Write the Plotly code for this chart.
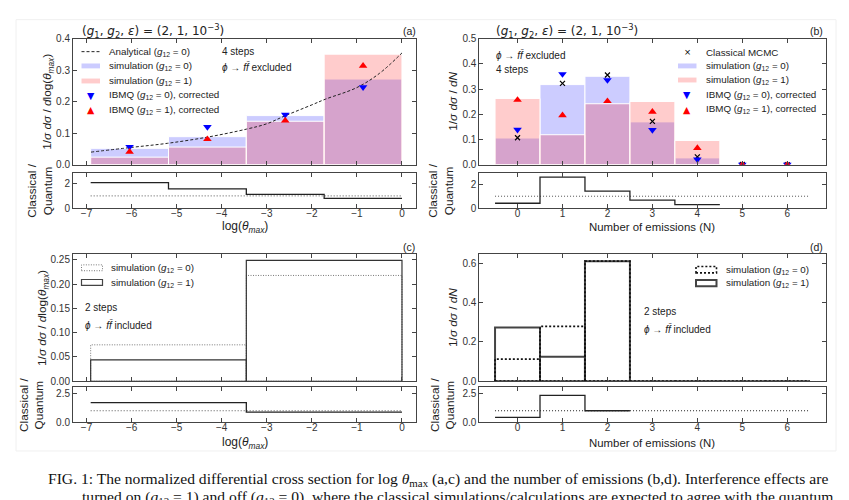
import plotly.graph_objects as go

W, H = 849, 500


def fx(p):
    return p / W


def fy(p):
    return 1 - p / H


# ---------------- data ----------------
# (a) log(theta_max), 4 steps
edges_a = [-6.908, -5.181, -3.454, -1.727, 0.0]
sim0_a = [0.052, 0.089, 0.156, 0.272]
sim1_a = [0.024, 0.056, 0.138, 0.351]
ibmq0_a = [0.057, 0.120, 0.159, 0.246]
ibmq1_a = [0.041, 0.081, 0.140, 0.314]
ratio_a = [2.08, 1.57, 1.12, 0.80]
analytic_x = [-6.9, -6.0, -5.2, -4.3, -3.45, -3.0, -2.6, -2.0, -1.7, -1.0, -0.5, 0.0]
analytic_y = [0.040, 0.055, 0.068, 0.088, 0.113, 0.130, 0.155, 0.190, 0.208, 0.245, 0.290, 0.355]

# (b) number of emissions, 4 steps
n_b = [0, 1, 2, 3, 4, 5, 6]
sim0_b = [0.106, 0.318, 0.351, 0.170, 0.027, 0.0, 0.0]
sim1_b = [0.263, 0.119, 0.242, 0.251, 0.096, 0.0, 0.0]
mcmc_b = [0.107, 0.323, 0.356, 0.172, 0.031, 0.001, 0.0]
ibmq0_b = [0.139, 0.360, 0.336, 0.138, 0.021, 0.0, 0.0]
ibmq1_b = [0.257, 0.196, 0.252, 0.210, 0.066, 0.0, 0.0]
ratio_b = [0.41, 2.60, 1.43, 0.67, 0.30]

# (c) log(theta_max), 2 steps
edges_c = [-6.908, -3.454, 0.0]
sim0_c = [0.075, 0.218]
sim1_c = [0.044, 0.249]
ratio_c = [1.72, 0.87]

# (d) number of emissions, 2 steps
n_d = [0, 1, 2, 3, 4, 5, 6]
sim0_d = [0.113, 0.279, 0.611, 0.0, 0.0, 0.0, 0.0]
sim1_d = [0.274, 0.125, 0.611, 0.0, 0.0, 0.0, 0.0]
ratio_d = [0.42, 2.35, 1.0]

# ---------------- helpers ----------------
BLUE_FILL = "rgba(0,0,255,0.2)"
RED_FILL = "rgba(255,0,0,0.2)"
FONT = "Liberation Sans"


def centers(edges):
    return [(edges[i] + edges[i + 1]) / 2 for i in range(len(edges) - 1)]


def widths(edges):
    return [edges[i + 1] - edges[i] for i in range(len(edges) - 1)]


def int_edges(ns):
    return [n - 0.5 for n in ns] + [ns[-1] + 0.5]


def outline(edges, vals):
    xs, ys = [], []
    for i, v in enumerate(vals):
        l, r = edges[i], edges[i + 1]
        xs += [l, l, r, r, l, None]
        ys += [0, v, v, 0, 0, None]
    return xs, ys


fig = go.Figure()

# ---------- (a) ----------
ca, wa = centers(edges_a), widths(edges_a)
fig.add_trace(go.Bar(x=ca, y=sim0_a, width=wa, xaxis="x", yaxis="y",
                     marker=dict(color=BLUE_FILL, line=dict(color="white", width=1))))
fig.add_trace(go.Bar(x=ca, y=sim1_a, width=wa, xaxis="x", yaxis="y",
                     marker=dict(color=RED_FILL, line=dict(color="white", width=1))))
fig.add_trace(go.Scatter(x=analytic_x, y=analytic_y, mode="lines", xaxis="x", yaxis="y",
                         line=dict(color="#222", width=1, dash="3px,2px", shape="spline")))
fig.add_trace(go.Scatter(x=ca, y=ibmq0_a, mode="markers", xaxis="x", yaxis="y",
                         marker=dict(symbol="triangle-down", color="blue", size=7.5)))
fig.add_trace(go.Scatter(x=ca, y=ibmq1_a, mode="markers", xaxis="x", yaxis="y",
                         marker=dict(symbol="triangle-up", color="red", size=7.5)))
fig.add_trace(go.Scatter(x=[edges_a[0], edges_a[-1]], y=[1, 1], mode="lines", xaxis="x2", yaxis="y2",
                         line=dict(color="#555", width=1, dash="1px,2px")))
fig.add_trace(go.Scatter(x=edges_a, y=ratio_a + [ratio_a[-1]], mode="lines", xaxis="x2", yaxis="y2",
                         line=dict(color="#222", width=1.3, shape="hv")))

# ---------- (b) ----------
eb = int_edges(n_b)
fig.add_trace(go.Bar(x=n_b, y=sim0_b, width=[1] * len(n_b), xaxis="x3", yaxis="y3",
                     marker=dict(color=BLUE_FILL, line=dict(color="white", width=1))))
fig.add_trace(go.Bar(x=n_b, y=sim1_b, width=[1] * len(n_b), xaxis="x3", yaxis="y3",
                     marker=dict(color=RED_FILL, line=dict(color="white", width=1))))
fig.add_trace(go.Scatter(x=n_b, y=mcmc_b, mode="markers", xaxis="x3", yaxis="y3",
                         marker=dict(symbol="x-thin", size=5, color="black",
                                     line=dict(color="black", width=1.2))))
fig.add_trace(go.Scatter(x=n_b, y=ibmq0_b, mode="markers", xaxis="x3", yaxis="y3",
                         marker=dict(symbol="triangle-down", color="blue", size=7.5)))
fig.add_trace(go.Scatter(x=n_b, y=ibmq1_b, mode="markers", xaxis="x3", yaxis="y3",
                         marker=dict(symbol="triangle-up", color="red", size=7.5)))
rb_edges = eb[:len(ratio_b) + 1]
fig.add_trace(go.Scatter(x=[eb[0], eb[-1]], y=[1, 1], mode="lines", xaxis="x4", yaxis="y4",
                         line=dict(color="#555", width=1, dash="1px,2px")))
fig.add_trace(go.Scatter(x=rb_edges, y=ratio_b + [ratio_b[-1]], mode="lines", xaxis="x4", yaxis="y4",
                         line=dict(color="#222", width=1.3, shape="hv")))

# ---------- (c) ----------
xs, ys = outline(edges_c, sim0_c)
fig.add_trace(go.Scatter(x=xs, y=ys, mode="lines", xaxis="x5", yaxis="y5",
                         line=dict(color="#777", width=1, dash="1px,1.5px")))
xs, ys = outline(edges_c, sim1_c)
fig.add_trace(go.Scatter(x=xs, y=ys, mode="lines", xaxis="x5", yaxis="y5",
                         line=dict(color="#333", width=1.2)))
fig.add_trace(go.Scatter(x=[edges_c[0], edges_c[-1]], y=[1, 1], mode="lines", xaxis="x6", yaxis="y6",
                         line=dict(color="#555", width=1, dash="1px,2px")))
fig.add_trace(go.Scatter(x=edges_c, y=ratio_c + [ratio_c[-1]], mode="lines", xaxis="x6", yaxis="y6",
                         line=dict(color="#222", width=1.3, shape="hv")))

# ---------- (d) ----------
ed = int_edges(n_d)
xs, ys = outline(ed, sim1_d)
fig.add_trace(go.Scatter(x=xs, y=ys, mode="lines", xaxis="x7", yaxis="y7",
                         line=dict(color="#444", width=2)))
xs, ys = outline(ed, sim0_d)
fig.add_trace(go.Scatter(x=xs, y=ys, mode="lines", xaxis="x7", yaxis="y7",
                         line=dict(color="#111", width=1.8, dash="2px,2px")))
rd_edges = ed[:len(ratio_d) + 1]
fig.add_trace(go.Scatter(x=[ed[0], ed[-1]], y=[1, 1], mode="lines", xaxis="x8", yaxis="y8",
                         line=dict(color="#222", width=1, dash="1px,2px")))
fig.add_trace(go.Scatter(x=rd_edges, y=ratio_d + [ratio_d[-1]], mode="lines", xaxis="x8", yaxis="y8",
                         line=dict(color="#222", width=1.3, shape="hv")))

# ---------------- axes ----------------
common = dict(showline=True, mirror="ticks", linecolor="#444", linewidth=1,
              ticks="inside", ticklen=4, tickwidth=1, tickcolor="#444",
              showgrid=False, zeroline=False,
              tickfont=dict(family=FONT, size=10, color="#333"))
xlab = dict(ticklabelstandoff=-4)

LX_A, RX_A = 73, 415.5
LX_B, RX_B = 479.3, 825.5
TOP_M1, BOT_M1 = 34.5, 163.3
TOP_R1, BOT_R1 = 171.7, 207.7
TOP_M2, BOT_M2 = 254.7, 384.7
TOP_R2, BOT_R2 = 391.0, 426.5

XR_A = [-7.3, 0.3]
XR_B = [-0.85, 6.85]
XT_A = list(range(-7, 1))
XT_B = list(range(0, 7))


def dx(l, r):
    return [fx(l), fx(r)]


def dy(t, b):
    return [fy(b), fy(t)]


layout_axes = dict(
    xaxis=dict(domain=dx(LX_A, RX_A), range=XR_A, anchor="y", tickvals=XT_A, showticklabels=False, **common),
    yaxis=dict(domain=dy(TOP_M1, BOT_M1), range=[0, 0.4], anchor="x", tickvals=[0, 0.1, 0.2, 0.3, 0.4],
               tickformat=".1f", **common),
    xaxis2=dict(domain=dx(LX_A, RX_A), range=XR_A, anchor="y2", tickvals=XT_A, **xlab, **common),
    yaxis2=dict(domain=dy(TOP_R1, BOT_R1), range=[0, 2.88], anchor="x2", tickvals=[0, 2], **common),
    xaxis3=dict(domain=dx(LX_B, RX_B), range=XR_B, anchor="y3", tickvals=XT_B, showticklabels=False, **common),
    yaxis3=dict(domain=dy(TOP_M1, BOT_M1), range=[0, 0.5], anchor="x3",
                tickvals=[0, 0.1, 0.2, 0.3, 0.4, 0.5], tickformat=".1f", **common),
    xaxis4=dict(domain=dx(LX_B, RX_B), range=XR_B, anchor="y4", tickvals=XT_B, **xlab, **common),
    yaxis4=dict(domain=dy(TOP_R1, BOT_R1), range=[0, 2.96], anchor="x4", tickvals=[0, 2], **common),
    xaxis5=dict(domain=dx(LX_A, RX_A), range=XR_A, anchor="y5", tickvals=XT_A, showticklabels=False, **common),
    yaxis5=dict(domain=dy(TOP_M2, BOT_M2), range=[0, 0.262], anchor="x5",
                tickvals=[0, 0.05, 0.10, 0.15, 0.20, 0.25], tickformat=".2f", **common),
    xaxis6=dict(domain=dx(LX_A, RX_A), range=XR_A, anchor="y6", tickvals=XT_A, **xlab, **common),
    yaxis6=dict(domain=dy(TOP_R2, BOT_R2), range=[0, 3.05], anchor="x6", tickvals=[0, 2.5],
                tickformat=".1f", **common),
    xaxis7=dict(domain=dx(LX_B, RX_B), range=XR_B, anchor="y7", tickvals=XT_B, showticklabels=False, **common),
    yaxis7=dict(domain=dy(TOP_M2, BOT_M2), range=[0, 0.647], anchor="x7", tickvals=[0, 0.2, 0.4, 0.6],
                tickformat=".1f", **common),
    xaxis8=dict(domain=dx(LX_B, RX_B), range=XR_B, anchor="y8", tickvals=XT_B, **xlab, **common),
    yaxis8=dict(domain=dy(TOP_R2, BOT_R2), range=[0, 3.05], anchor="x8", tickvals=[0, 2.5],
                tickformat=".1f", **common),
)

# ---------------- annotations ----------------
ann = []


def txt(x, y, s, size=11, xanchor="left", yanchor="middle", angle=0, color="#222", family=FONT):
    ann.append(dict(x=fx(x), y=fy(y), xref="paper", yref="paper", text=s, showarrow=False,
                    xanchor=xanchor, yanchor=yanchor, textangle=angle,
                    font=dict(size=size, color=color, family=family)))


G12_0 = "(<i>g</i><sub>12</sub> = 0)"
G12_1 = "(<i>g</i><sub>12</sub> = 1)"
HDR = "(<i>g</i><sub>1</sub>, <i>g</i><sub>2</sub>, <i>ε</i>) = (2, 1, 10<sup>−3</sup>)"
FF = "<i>ϕ</i> → <i>ff\u0304</i>"
YT_LOG = "1/<i>σ dσ</i> / <i>d</i>log(<i>θ<sub>max</sub></i>)"
YT_N = "1/<i>σ dσ</i> / <i>dN</i>"
XT_LOG = "log(<i>θ<sub>max</sub></i>)"
RAT = "Classical /<br>Quantum"
TS = 11.8  # axis title size
LEG = 9.8
INS = 10

# headers and panel labels
txt(80, 26.5, HDR, size=12, family="DejaVu Sans")
txt(494, 26.5, HDR, size=12, family="DejaVu Sans")
txt(409, 27, "(a)", size=10.5, xanchor="center")
txt(816, 27, "(b)", size=10.5, xanchor="center")
txt(409, 247, "(c)", size=10.5, xanchor="center")
txt(816, 247, "(d)", size=10.5, xanchor="center")

# axis titles
txt(48, 99, YT_LOG, size=TS, xanchor="center", angle=-90)
txt(40, 190, RAT, size=TS, xanchor="center", angle=-90)
txt(245, 227.5, XT_LOG, size=12, xanchor="center")
txt(453, 99, YT_N, size=TS, xanchor="center", angle=-90)
txt(441, 190, RAT, size=TS, xanchor="center", angle=-90)
txt(652, 227.5, "Number of emissions (N)", size=11.4, xanchor="center")
txt(43, 320, YT_LOG, size=TS, xanchor="center", angle=-90)
txt(31, 409, RAT, size=TS, xanchor="center", angle=-90)
txt(245, 447.5, XT_LOG, size=12, xanchor="center")
txt(453, 320, YT_N, size=TS, xanchor="center", angle=-90)
txt(442, 409, RAT, size=TS, xanchor="center", angle=-90)
txt(652, 447.5, "Number of emissions (N)", size=11.4, xanchor="center")

# in-panel texts
txt(220, 47.7, "4 steps", size=INS)
txt(220, 63, FF + " excluded", size=INS)
txt(494, 50.7, FF + " excluded", size=INS)
txt(494, 66, "4 steps", size=INS)
txt(83, 309.5, "2 steps", size=INS)
txt(83, 327.5, FF + " included", size=INS)
txt(642, 313, "2 steps", size=INS)
txt(642, 331.5, FF + " included", size=INS)

# legend (a)
rows_a = [47.7, 62.3, 77.7, 92.3, 107.3]
labels_a = ["Analytical " + G12_0, "simulation " + G12_0, "simulation " + G12_1,
            "IBMQ " + G12_0 + ", corrected", "IBMQ " + G12_1 + ", corrected"]
for r, s in zip(rows_a, labels_a):
    txt(107, r, s, size=LEG)
txt(90.7, rows_a[3], "▼", size=9.5, xanchor="center", color="blue", family="DejaVu Sans")
txt(90.7, rows_a[4], "▲", size=9.5, xanchor="center", color="red", family="DejaVu Sans")

# legend (b)
rows_b = [48.3, 62.3, 76.7, 91.7, 106.7]
labels_b = ["Classical MCMC", "simulation " + G12_0, "simulation " + G12_1,
            "IBMQ " + G12_0 + ", corrected", "IBMQ " + G12_1 + ", corrected"]
for r, s in zip(rows_b, labels_b):
    txt(704, r, s, size=LEG)
txt(687, rows_b[0], "×", size=8.5, xanchor="center", color="black", family="DejaVu Sans")
txt(687, rows_b[3], "▼", size=9.5, xanchor="center", color="blue", family="DejaVu Sans")
txt(687, rows_b[4], "▲", size=9.5, xanchor="center", color="red", family="DejaVu Sans")

# legend (c), (d)
txt(109, 269, "simulation " + G12_0, size=LEG)
txt(109, 284, "simulation " + G12_1, size=LEG)
txt(724, 270.5, "simulation " + G12_0, size=LEG)
txt(724, 284.5, "simulation " + G12_1, size=LEG)

# caption
CAP1 = ("FIG. 1: The normalized differential cross section for log <i>θ</i><sub>max</sub> (a,c) and the "
        "number of emissions (b,d). Interference effects are")
CAP2 = ("turned on (<i>g</i><sub>12</sub> = 1) and off (<i>g</i><sub>12</sub> = 0), where the classical "
        "simulations/calculations are expected to agree with the quantum")
txt(46, 485, CAP1, size=15.6, color="#111", family="Liberation Serif")
txt(80, 504, CAP2, size=15.6, color="#111", family="Liberation Serif")

# ---------------- legend symbol shapes ----------------
shapes = []


def pline(x0, x1, y, color, width, dash):
    shapes.append(dict(type="line", xref="paper", yref="paper", x0=fx(x0), x1=fx(x1), y0=fy(y), y1=fy(y),
                       line=dict(color=color, width=width, dash=dash)))


def prect(x0, x1, yc, h, fill, lcolor=None, lwidth=0, dash="solid"):
    shapes.append(dict(type="rect", xref="paper", yref="paper", x0=fx(x0), x1=fx(x1),
                       y0=fy(yc + h / 2), y1=fy(yc - h / 2), fillcolor=fill,
                       line=dict(color=lcolor or "rgba(0,0,0,0)", width=lwidth, dash=dash)))


pline(81.5, 100, rows_a[0], "#222", 1, "3px,2px")
prect(81.5, 100, rows_a[1], 5, BLUE_FILL)
prect(81.5, 100, rows_a[2], 5, RED_FILL)
prect(678, 696.5, rows_b[1], 5, BLUE_FILL)
prect(678, 696.5, rows_b[2], 5, RED_FILL)
prect(81.5, 102.5, 268.7, 6, "rgba(0,0,0,0)", "#777", 1, "1px,1.5px")
prect(81.5, 102.5, 283.7, 6, "rgba(0,0,0,0)", "#444", 1.2)
prect(696, 716.5, 270.6, 6.5, "rgba(0,0,0,0)", "#111", 1.6, "2px,2px")
prect(696, 716.5, 284.4, 6.5, "rgba(0,0,0,0)", "#444", 2)
# faint image border
shapes.append(dict(type="rect", xref="paper", yref="paper", x0=fx(16), x1=fx(836), y0=fy(456), y1=fy(15),
                   line=dict(color="#f0f0f0", width=1), fillcolor="rgba(0,0,0,0)", layer="below"))

fig.update_layout(
    width=W, height=H, margin=dict(l=0, r=0, t=0, b=0),
    paper_bgcolor="white", plot_bgcolor="rgba(0,0,0,0)",
    showlegend=False, barmode="overlay",
    annotations=ann, shapes=shapes,
    **layout_axes,
)

fig.write_html("out.html")
